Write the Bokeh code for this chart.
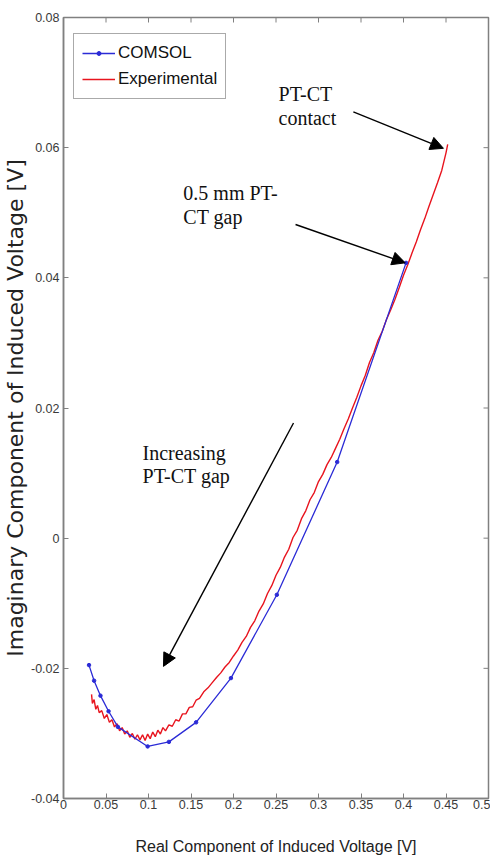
from bokeh.plotting import figure
from bokeh.models import (Range1d, FixedTicker, Arrow, NormalHead,
                          Label, Legend, LegendItem)
from bokeh.embed import file_html
from bokeh.resources import INLINE

# ---------------- data ----------------
comsol_x = [0.030, 0.036, 0.0435, 0.053, 0.064, 0.099, 0.124, 0.156, 0.197, 0.251, 0.322, 0.403]
comsol_y = [-0.0195, -0.0219, -0.0242, -0.0266, -0.0290, -0.0320, -0.0313, -0.0283, -0.0215, -0.0087, 0.0117, 0.0423]

exp_x = [0.033, 0.034, 0.036, 0.038, 0.040, 0.042, 0.045, 0.048, 0.051, 0.054, 0.057, 0.060,
         0.063, 0.066, 0.069, 0.072, 0.075, 0.078, 0.081, 0.084, 0.087, 0.090, 0.093, 0.096,
         0.099, 0.102, 0.105, 0.108, 0.111, 0.114, 0.117, 0.120, 0.124, 0.128, 0.132, 0.136,
         0.140, 0.144, 0.148, 0.152, 0.156, 0.160, 0.165, 0.170, 0.175, 0.180, 0.185, 0.190,
         0.195, 0.200, 0.205, 0.210, 0.215, 0.220, 0.225, 0.230, 0.235, 0.240, 0.245, 0.250,
         0.255, 0.260, 0.265, 0.270, 0.275, 0.280, 0.285, 0.290, 0.295, 0.300, 0.305, 0.310,
         0.315, 0.320, 0.325, 0.330, 0.335, 0.340, 0.345, 0.350, 0.355, 0.360, 0.365, 0.370,
         0.375, 0.380, 0.385, 0.390, 0.395, 0.400, 0.405, 0.410, 0.415, 0.420, 0.425, 0.430,
         0.435, 0.440, 0.445, 0.450, 0.452]
exp_y = [-0.0240, -0.0254, -0.0248, -0.0263, -0.0257, -0.0268, -0.0265, -0.0277, -0.0271, -0.0283,
         -0.0279, -0.0290, -0.0285, -0.0296, -0.0291, -0.0301, -0.0296, -0.0306, -0.0300, -0.0309,
         -0.0302, -0.0310, -0.0302, -0.0311, -0.0301, -0.0308, -0.0298, -0.0305, -0.0295, -0.0301,
         -0.0291, -0.0296, -0.0287, -0.0289, -0.0279, -0.0281, -0.0270, -0.0270, -0.0260, -0.0259,
         -0.0249, -0.0246, -0.0236, -0.0230, -0.0222, -0.0214, -0.0207, -0.0198, -0.0191, -0.0181,
         -0.0172, -0.0160, -0.0151, -0.0137, -0.0127, -0.0112, -0.0101, -0.0085, -0.0073, -0.0057,
         -0.0045, -0.0029, -0.0017, 0.0001, 0.0012, 0.0030, 0.0042, 0.0059, 0.0070, 0.0087,
         0.0098, 0.0113, 0.0124, 0.0138, 0.0152, 0.0168, 0.0183, 0.0200, 0.0216, 0.0234,
         0.0250, 0.0270, 0.0285, 0.0304, 0.0318, 0.0336, 0.0351, 0.0367, 0.0385, 0.0404,
         0.0420, 0.0438, 0.0455, 0.0474, 0.0491, 0.0510, 0.0528, 0.0546, 0.0565, 0.0592, 0.0605]

x_ticks = [0, 0.05, 0.1, 0.15, 0.2, 0.25, 0.3, 0.35, 0.4, 0.45, 0.5]
x_tick_labels = ["0", "0.05", "0.1", "0.15", "0.2", "0.25", "0.3", "0.35", "0.4", "0.45", "0.5"]
y_ticks = [-0.04, -0.02, 0, 0.02, 0.04, 0.06, 0.08]
y_tick_labels = ["-0.04", "-0.02", "0", "0.02", "0.04", "0.06", "0.08"]

series_names = ["COMSOL", "Experimental"]
x_title = "Real Component of Induced Voltage [V]"
y_title = "Imaginary Component of Induced Voltage [V]"

# annotations: text lines and arrows (data coordinates)
note_texts = ["PT-CT", "contact", "0.5 mm PT-", "CT gap", "Increasing", "PT-CT gap"]
note_x = [0.253, 0.253, 0.141, 0.141, 0.093, 0.093]
note_y = [0.0682, 0.0645, 0.0530, 0.0493, 0.0131, 0.0095]
arrow_x0 = [0.341, 0.273, 0.2706]
arrow_y0 = [0.0655, 0.0482, 0.0177]
arrow_x1 = [0.447, 0.402, 0.1176]
arrow_y1 = [0.0599, 0.0423, -0.0197]

# ---------------- figure ----------------
BLUE = "#2b2bd6"
RED = "#e8141e"
AXC = "#808080"
SANS = "Liberation Sans"
X0, X1 = 0, 0.5
Y0, Y1 = -0.04, 0.08
FRAME_W, FRAME_H = 425, 781

p = figure(width=490, height=860, x_range=Range1d(X0, X1), y_range=Range1d(Y0, Y1),
           output_backend="svg", toolbar_location=None,
           min_border_left=63, min_border_right=2, min_border_top=17, min_border_bottom=62)
p.grid.visible = False
p.outline_line_color = AXC
p.outline_line_width = 1.5
p.background_fill_color = "white"
p.border_fill_color = "white"

p.xaxis.ticker = FixedTicker(ticks=x_ticks)
p.xaxis.major_label_overrides = dict(zip(x_ticks, x_tick_labels))
p.yaxis.ticker = FixedTicker(ticks=y_ticks)
p.yaxis.major_label_overrides = dict(zip(y_ticks, y_tick_labels))
for ax in (p.xaxis[0], p.yaxis[0]):
    ax.axis_line_color = AXC
    ax.axis_line_width = 1.5
    ax.major_tick_line_color = AXC
    ax.major_tick_in = 5
    ax.major_tick_out = 0
    ax.minor_tick_line_color = None
    ax.major_label_text_font = SANS
    ax.major_label_text_font_size = "12.5px"
    ax.major_label_text_color = "#3a3a3a"
    ax.axis_label_text_font_style = "normal"
    ax.axis_label_text_color = "#222222"

p.xaxis.major_label_standoff = 1
p.yaxis.major_label_standoff = 4
p.xaxis.axis_label = x_title
p.xaxis.axis_label_text_font = SANS
p.xaxis.axis_label_text_font_size = "16px"
p.xaxis.axis_label_standoff = 26

p.yaxis.axis_label = y_title
p.yaxis.axis_label_text_font = "DejaVu Sans"
p.yaxis.axis_label_text_font_size = "22px"
p.yaxis.axis_label_standoff = 0

# inward ticks on the top and right edges of the box
tick_dy = (Y1 - Y0) * 5 / FRAME_H
tick_dx = (X1 - X0) * 5 / FRAME_W
p.segment(x0=x_ticks, y0=[Y1] * len(x_ticks), x1=x_ticks, y1=[Y1 - tick_dy] * len(x_ticks),
          line_color=AXC, line_width=1)
p.segment(x0=[X1] * len(y_ticks), y0=y_ticks, x1=[X1 - tick_dx] * len(y_ticks), y1=y_ticks,
          line_color=AXC, line_width=1)

# ---------------- series ----------------
r_exp = p.line(exp_x, exp_y, line_color=RED, line_width=1.4)
r_com = p.line(comsol_x, comsol_y, line_color=BLUE, line_width=1.3)
r_com_m = p.scatter(comsol_x, comsol_y, size=3.5, color=BLUE)

legend = Legend(items=[LegendItem(label=series_names[0], renderers=[r_com, r_com_m]),
                       LegendItem(label=series_names[1], renderers=[r_exp])],
                location=(10, 699))
legend.label_text_font = SANS
legend.label_text_font_size = "17px"
legend.label_text_color = "#111111"
legend.glyph_width = 33
legend.glyph_height = 10
legend.label_height = 22
legend.label_standoff = 3
legend.padding = 8
legend.spacing = 4
legend.margin = 0
legend.border_line_color = "#555555"
legend.border_line_width = 1
legend.background_fill_alpha = 1
p.add_layout(legend, "center")

# ---------------- annotations ----------------
for t, x, y in zip(note_texts, note_x, note_y):
    p.add_layout(Label(x=x, y=y, text=t, text_font="Liberation Serif", text_font_size="20px",
                       text_baseline="middle", text_align="left", text_color="#111111"))

for x0, y0, x1, y1 in zip(arrow_x0, arrow_y0, arrow_x1, arrow_y1):
    p.add_layout(Arrow(x_start=x0, y_start=y0, x_end=x1, y_end=y1, line_color="black",
                       line_width=1.4,
                       end=NormalHead(size=13, fill_color="black", line_color="black")))

open("out.html", "w").write(file_html(p, INLINE))
